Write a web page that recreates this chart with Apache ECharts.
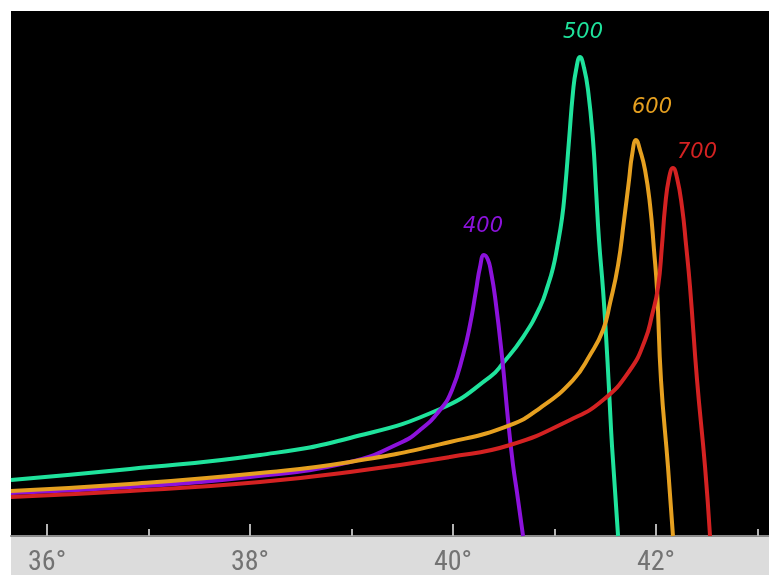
<!DOCTYPE html>
<html>
<head>
<meta charset="utf-8">
<script src="https://cdn.jsdelivr.net/npm/echarts@6/dist/echarts.min.js"></script>
<style>
html,body{margin:0;padding:0;background:#fff;}
#chart{width:769px;height:575px;}
</style>
</head>
<body>
<div id="chart"></div>
<script>
// Scattering angle (degrees) and relative intensity (arbitrary units) for each wavelength (nm)
const names = ['400', '500', '600', '700'];

const angle400 = [35.645, 36.818, 38.000, 38.985, 39.478, 39.675, 39.872, 39.990, 40.099, 40.167, 40.227, 40.266, 40.305, 40.345, 40.374, 40.414, 40.483, 40.542, 40.591, 40.631, 40.690];
const inten400 = [8.19, 9.33, 11.24, 14.10, 17.71, 20.19, 24.00, 27.81, 34.48, 40.19, 46.86, 51.24, 53.52, 52.57, 50.29, 45.52, 34.10, 22.10, 13.52, 8.19, 0];

const angle500 = [35.645, 36.818, 38.099, 38.985, 39.872, 40.365, 40.493, 40.690, 40.857, 40.936, 40.985, 41.025, 41.074, 41.103, 41.143, 41.182, 41.212, 41.251, 41.291, 41.330, 41.379, 41.409, 41.438, 41.478, 41.507, 41.537, 41.567, 41.626];
const inten500 = [10.67, 12.76, 15.43, 18.67, 24.19, 30.29, 32.95, 37.90, 43.62, 47.81, 51.05, 54.86, 60.57, 65.90, 75.43, 84.57, 88.76, 91.24, 89.14, 84.95, 75.43, 65.90, 56.38, 46.86, 38.29, 27.81, 16.95, 0];

const angle600 = [35.645, 36.818, 38.099, 38.985, 39.970, 40.562, 40.857, 41.182, 41.350, 41.478, 41.547, 41.626, 41.685, 41.734, 41.764, 41.803, 41.842, 41.892, 41.941, 41.980, 42.010, 42.049, 42.118, 42.167];
const inten600 = [8.57, 9.90, 12.00, 14.10, 17.90, 21.14, 24.38, 29.71, 34.48, 39.24, 44.38, 51.62, 60.19, 67.81, 72.57, 75.43, 73.52, 69.71, 63.05, 54.48, 46.86, 29.71, 13.14, 0];

const angle700 = [35.645, 36.818, 38.099, 38.985, 39.970, 40.562, 41.153, 41.478, 41.744, 41.892, 41.961, 42.020, 42.059, 42.089, 42.128, 42.167, 42.207, 42.256, 42.296, 42.335, 42.404, 42.483, 42.532];
const inten700 = [7.43, 8.57, 10.29, 12.19, 15.05, 17.33, 22.10, 25.90, 31.62, 37.33, 42.10, 47.43, 55.43, 62.67, 68.19, 70.10, 68.19, 62.67, 55.43, 47.43, 29.71, 13.14, 0];

const majorTicks = [36, 38, 40, 42];
const minorTicks = [37, 39, 41, 43];

const colors = ['#8c12dc', '#1fe39c', '#e6a020', '#d42222'];
const labelOffsets = [[-1, -28], [3, -24], [16, -32], [24, -15]];

const angles = [angle400, angle500, angle600, angle700];
const intens = [inten400, inten500, inten600, inten700];

const series = names.map((n, i) => {
  const xs = angles[i], ys = intens[i];
  let peak = 0;
  ys.forEach((v, k) => { if (v > ys[peak]) peak = k; });
  return {
    name: n,
    type: 'line',
    xAxisIndex: 0,
    data: xs.map((x, k) => [x, ys[k]]),
    smooth: 0.5,
    showSymbol: false,
    symbol: 'none',
    clip: true,
    lineStyle: { color: colors[i], width: 4 },
    itemStyle: { color: colors[i] },
    z: [3, 2, 4, 5][i],
    markPoint: {
      symbol: 'circle',
      symbolSize: 0,
      silent: true,
      data: [{
        coord: [xs[peak], ys[peak]],
        label: {
          show: true,
          position: 'inside',
          formatter: n,
          offset: labelOffsets[i],
          color: colors[i],
          fontFamily: 'DejaVu Sans',
          fontStyle: 'italic',
          fontWeight: 200,
          fontSize: 21
        }
      }]
    }
  };
});

const chart = echarts.init(document.getElementById('chart'), null, { renderer: 'canvas' });
chart.setOption({
  animation: false,
  backgroundColor: '#ffffff',
  graphic: [{
    type: 'rect',
    z: -10,
    shape: { x: 11, y: 536, width: 758, height: 39 },
    style: { fill: '#dcdcdc' }
  }],
  grid: {
    left: 11, right: 0, top: 11, bottom: 39,
    outerBoundsMode: 'none',
    containLabel: false,
    show: true, backgroundColor: '#000000', borderWidth: 0
  },
  xAxis: [{
    type: 'value',
    min: 35.645,
    max: 43.113,
    position: 'bottom',
    splitLine: { show: false },
    axisLine: { show: true, lineStyle: { color: '#8a8a8a', width: 2 } },
    axisTick: { show: true, customValues: majorTicks, inside: true, length: 12, lineStyle: { color: '#b4b4b4', width: 2 } },
    axisLabel: {
      show: true,
      customValues: majorTicks,
      formatter: v => v + '°',
      color: '#737373',
      fontFamily: "'Liberation Sans Narrow', 'Roboto Condensed', 'Liberation Sans', sans-serif",
      fontSize: 28,
      margin: 13
    }
  }, {
    type: 'value',
    min: 35.645,
    max: 43.113,
    position: 'bottom',
    splitLine: { show: false },
    axisLine: { show: false },
    axisLabel: { show: false },
    axisTick: { show: true, customValues: minorTicks, inside: true, length: 7, lineStyle: { color: '#b4b4b4', width: 2 } }
  }],
  yAxis: {
    type: 'value', min: 0, max: 100, show: false
  },
  series: series
});
</script>
</body>
</html>
